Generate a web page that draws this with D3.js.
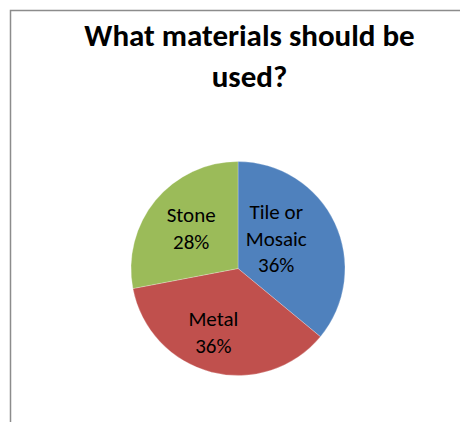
<!DOCTYPE html>
<html>
<head>
<meta charset="utf-8">
<script src="https://cdn.jsdelivr.net/npm/d3@7"></script>
<style>
html,body{margin:0;padding:0;background:#fff;}
svg{display:block;}
</style>
</head>
<body>
<svg id="chart" width="460" height="422"></svg>
<script>
const categories = ["Tile or Mosaic", "Metal", "Stone"];
const values = [36, 36, 28];
const colors = ["#4F81BD", "#C0504D", "#9BBB59"];
const titleLines = ["What materials should be", "used?"];

const FONT = "Carlito, Calibri, Lato, 'Open Sans', sans-serif";
const svg = d3.select("#chart");

// chart area border (cut at right/bottom like the reference)
svg.append("path")
  .attr("d", "M10.5,470 L10.5,10.5 L470,10.5")
  .attr("fill", "none")
  .attr("stroke", "#8c8c8c")
  .attr("stroke-width", 1.5);

// title
const title = svg.append("text")
  .attr("text-anchor", "middle")
  .attr("font-family", FONT)
  .attr("font-weight", "bold")
  .attr("font-size", 31)
  .attr("fill", "#000");
titleLines.forEach((t, i) => {
  title.append("tspan").attr("x", 249.5).attr("y", 46 + i * 41).text(t);
});

const cx = 238, cy = 268.5, r = 107;
const pie = d3.pie().sort(null).value(d => d.value);
const data = pie(categories.map((c, i) => ({ name: c, value: values[i], color: colors[i] })));
const arc = d3.arc().innerRadius(0).outerRadius(r);

const g = svg.append("g").attr("transform", `translate(${cx},${cy})`);
g.selectAll("path.slice").data(data).enter().append("path")
  .attr("class", "slice")
  .attr("d", arc)
  .attr("fill", d => d.data.color)
  .attr("stroke", "rgba(255,255,255,0.5)")
  .attr("stroke-width", 0.5);

// label placement: Excel "best fit" style, inside slices
const labelLines = {
  "Tile or Mosaic": ["Tile or", "Mosaic"],
  "Metal": ["Metal"],
  "Stone": ["Stone"]
};
const labelNudge = { "Tile or Mosaic": [-15, -4.5], "Metal": [-10, 7], "Stone": [-1.5, -2.5] };
const labelArc = d3.arc().innerRadius(r * 0.55).outerRadius(r * 0.55);
const total = d3.sum(values);
const lineH = 26.5;

data.forEach(d => {
  const [x0, y0] = labelArc.centroid(d);
  const nudge = labelNudge[d.data.name];
  const lines = labelLines[d.data.name].concat([Math.round(d.data.value / total * 100) + "%"]);
  const x = x0 + nudge[0], y = y0 + nudge[1];
  const t = g.append("text")
    .attr("text-anchor", "middle")
    .attr("font-family", FONT)
    .attr("font-size", 21)
    .attr("fill", "#000");
  lines.forEach((ln, i) => {
    t.append("tspan").attr("x", x)
      .attr("y", y + (i - (lines.length - 1) / 2) * lineH + 7)
      .text(ln);
  });
});
</script>
</body>
</html>
